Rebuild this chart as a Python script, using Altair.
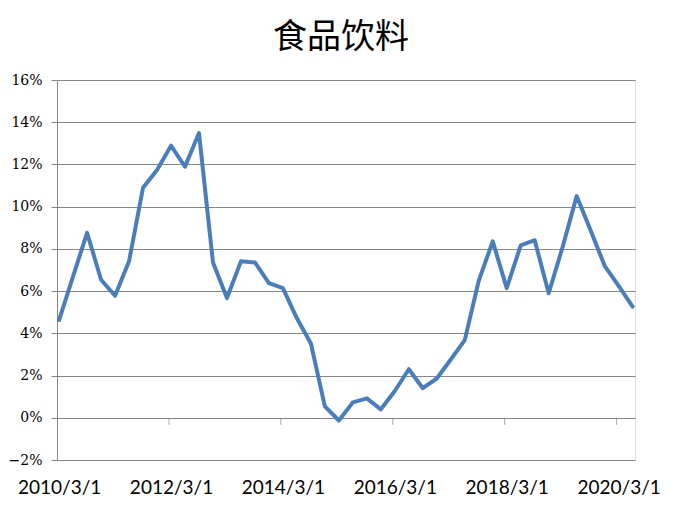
import altair as alt
import pandas as pd

# quarterly categories (Excel category axis)
dates = [f"{y}/{m}/1" for y in range(2010, 2021) for m in (3, 6, 9, 12)][:42]
values = [4.63, 6.7, 8.76, 6.54, 5.78, 7.41, 10.9, 11.74, 12.89, 11.89, 13.49,
          7.36, 5.67, 7.41, 7.36, 6.38, 6.14, 4.71, 3.52, 0.54, -0.13, 0.73,
          0.92, 0.40, 1.27, 2.3, 1.40, 1.86, 2.76, 3.68, 6.49, 8.36, 6.14,
          8.17, 8.41, 5.90, 8.1, 10.5, 8.87, 7.2, 6.25, 5.27]
label_idx = [0, 8, 16, 24, 32, 40]
tick_idx = [7.85, 15.85, 23.85, 31.85, 39.85]
y_ticks = [-2, 0, 2, 4, 6, 8, 10, 12, 14, 16]

df = pd.DataFrame({"idx": list(range(len(values))), "date": dates, "v": values})
ticks_df = pd.DataFrame({"t": tick_idx})

label_arr = "[" + ",".join(f"'{dates[i]}'" for i in label_idx) + "]"

xscale = alt.Scale(domain=[-0.15, 41.17], nice=False, zero=False)
yscale = alt.Scale(domain=[-2, 16], nice=False, zero=False)

GRID = "#868686"

line = alt.Chart(df).mark_line(
    color="#4A7EBB", strokeWidth=4, strokeJoin="round", strokeCap="round"
).encode(
    x=alt.X("idx:Q", scale=xscale, title=None,
            axis=alt.Axis(values=label_idx, labelExpr=f"{label_arr}[datum.value/8]",
                          grid=False, domain=False, ticks=False, labelPadding=18,
                          labelFont="Lato", labelFontSize=19, labelColor="#000000",
                          labelFlush=False, labelOverlap=False)),
    y=alt.Y("v:Q", scale=yscale, title=None,
            axis=alt.Axis(values=y_ticks,
                          labelExpr="(datum.value < 0 ? '\u2212' + abs(datum.value) : datum.value) + '%'",
                          grid=True, gridColor=GRID, gridWidth=1, gridOpacity=1,
                          domain=True, domainColor=GRID, domainWidth=1,
                          ticks=True, tickColor=GRID, tickSize=6, tickWidth=1,
                          labelPadding=9,
                          labelFont="DejaVu Serif",
                          labelFontSize=14, labelColor="#000000")),
)

xticks = alt.Chart(ticks_df).mark_tick(
    orient="vertical", size=7, thickness=1, color=GRID, yOffset=3.5
).encode(
    x=alt.X("t:Q", scale=xscale),
    y=alt.Y("zero:Q", scale=yscale),
).transform_calculate(zero="0")

chart = alt.layer(xticks, line).properties(
    width=578, height=380,
    padding={"left": 49, "top": 72, "right": 41, "bottom": 53},
    autosize=alt.AutoSizeParams(type="none"),
    title=alt.TitleParams("食品饮料", font="Noto Sans CJK SC", fontSize=34,
                          fontWeight="normal", color="#000000", anchor="middle",
                          offset=18, dx=-5),
).configure_view(stroke=None).configure(background="white")

chart.save("out.html", embed_options={"renderer": "svg", "actions": False})
